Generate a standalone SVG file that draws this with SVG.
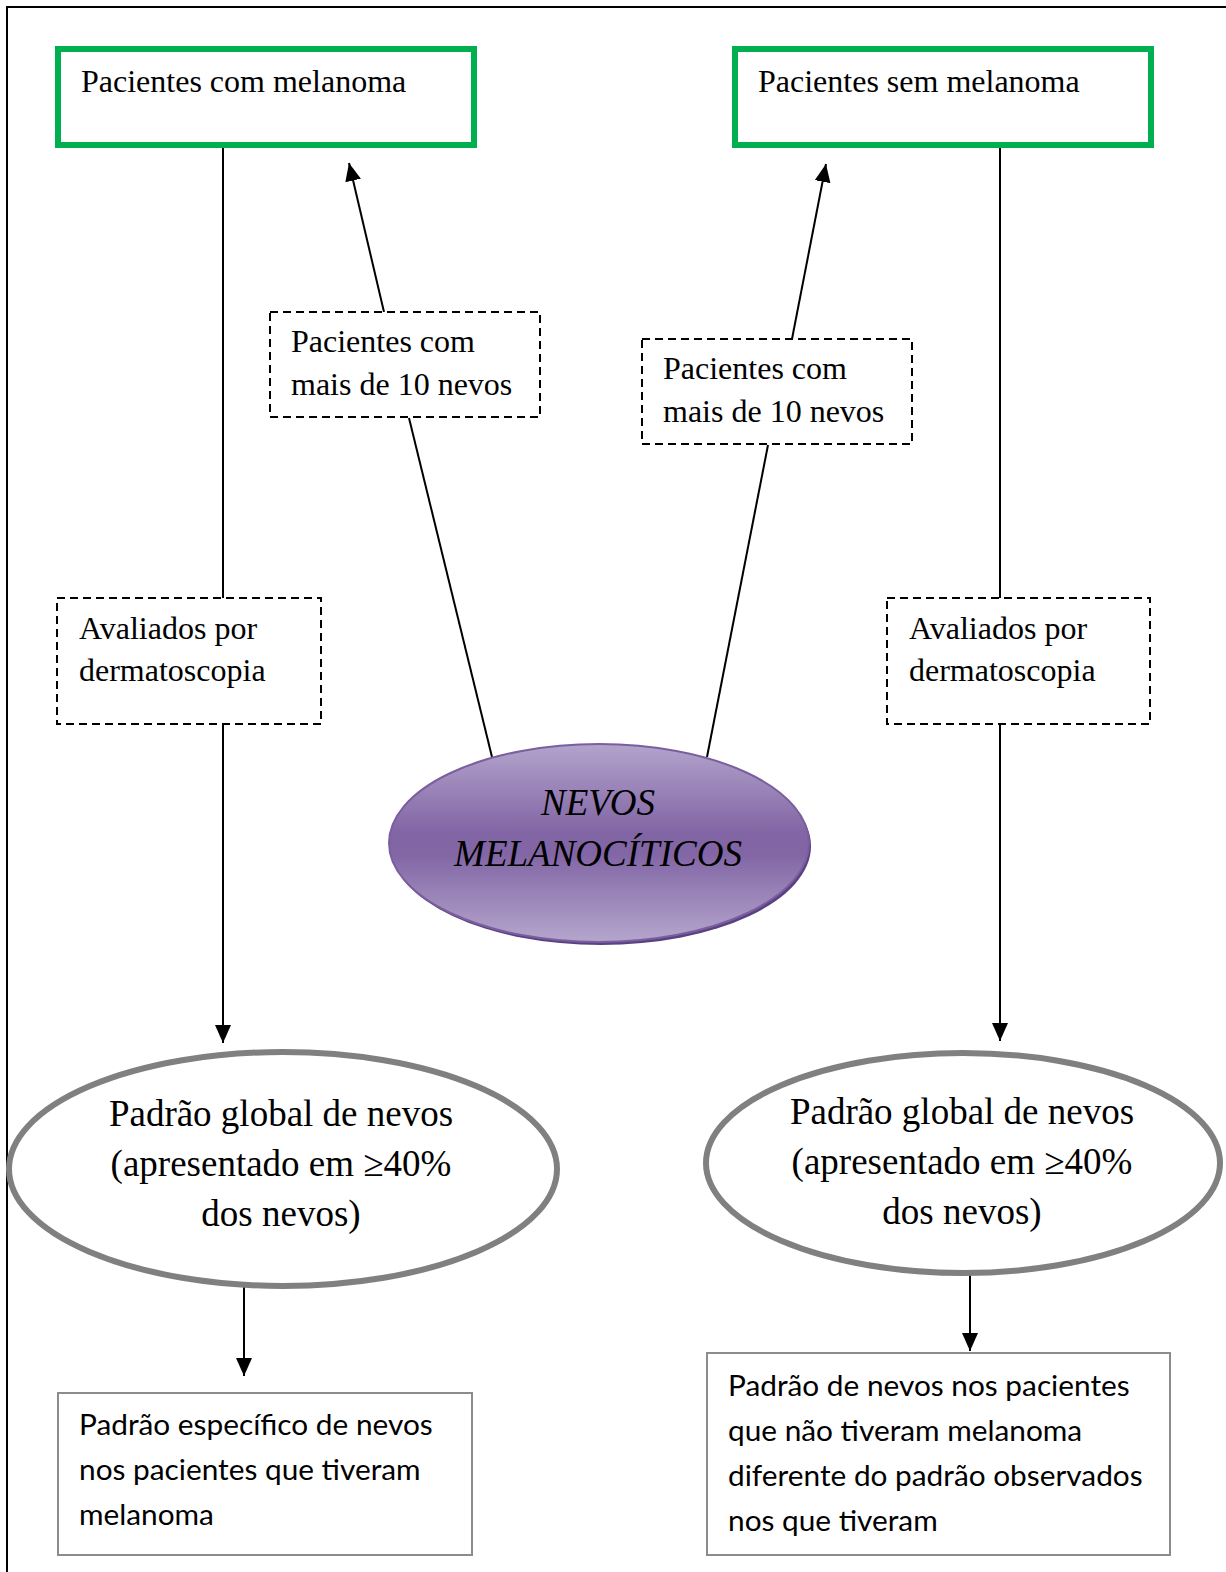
<svg xmlns="http://www.w3.org/2000/svg" width="1226" height="1572" viewBox="0 0 1226 1572">
<style>
.serif{font-family:"Liberation Serif","Times New Roman",serif;fill:#000}
.t32{font-size:32px}
.t37{font-size:37px}
.sans{font-family:Lato,"Open Sans","Liberation Sans",sans-serif;font-size:29.8px;fill:#000}
.green{fill:#fff;stroke:#00b050;stroke-width:6}
.dash{fill:#fff;stroke:#000;stroke-width:2;stroke-dasharray:8 5}
.gray{fill:#fff;stroke:#808080;stroke-width:6}
.plain{fill:#fff;stroke:#8c8c8c;stroke-width:2}
.conn{stroke:#000;stroke-width:2;fill:none}
</style>
<defs>
<marker id="arr" markerUnits="userSpaceOnUse" markerWidth="18" markerHeight="18" viewBox="0 0 18 18" refX="18" refY="9" orient="auto">
<path d="M0,1 L18,9 L0,17 Z" fill="#000"/>
</marker>
<linearGradient id="purp" x1="0" y1="0" x2="0" y2="1">
<stop offset="0" stop-color="#b3a3cc"/>
<stop offset="0.45" stop-color="#8165a4"/>
<stop offset="0.55" stop-color="#8165a4"/>
<stop offset="1" stop-color="#b5a6cd"/>
</linearGradient>
</defs>
<rect width="1226" height="1572" fill="#fff"/>
<g id="frame">
<path d="M7,1572 V7 H1226" class="conn"/>
</g>
<g id="connectors">
<line x1="223" y1="148" x2="223" y2="598" class="conn"/>
<line x1="223" y1="724" x2="223" y2="1043" class="conn" marker-end="url(#arr)"/>
<line x1="1000" y1="148" x2="1000" y2="598" class="conn"/>
<line x1="1000" y1="724" x2="1000" y2="1041" class="conn" marker-end="url(#arr)"/>
<line x1="384" y1="312" x2="349" y2="163" class="conn" marker-end="url(#arr)"/>
<line x1="792" y1="339" x2="826" y2="164" class="conn" marker-end="url(#arr)"/>
<line x1="409" y1="418" x2="492" y2="757" class="conn"/>
<line x1="768" y1="445" x2="707" y2="757" class="conn"/>
<line x1="244" y1="1287" x2="244" y2="1376" class="conn" marker-end="url(#arr)"/>
<line x1="970" y1="1274" x2="970" y2="1351" class="conn" marker-end="url(#arr)"/>
</g>
<g id="n-com-melanoma">
<rect x="58" y="49" width="416" height="96" class="green"/>
<text x="81" y="92" class="serif t32">Pacientes com melanoma</text>
</g>
<g id="n-sem-melanoma">
<rect x="735" y="49" width="416" height="96" class="green"/>
<text x="758" y="92" class="serif t32">Pacientes sem melanoma</text>
</g>
<g id="n-mais10-left">
<rect x="270" y="312" width="270" height="105" class="dash"/>
<text x="291" y="352" class="serif t32">Pacientes com</text>
<text x="291" y="395" class="serif t32">mais de 10 nevos</text>
</g>
<g id="n-mais10-right">
<rect x="642" y="339" width="270" height="105" class="dash"/>
<text x="663" y="379" class="serif t32">Pacientes com</text>
<text x="663" y="422" class="serif t32">mais de 10 nevos</text>
</g>
<g id="n-aval-left">
<rect x="57" y="598" width="264" height="126" class="dash"/>
<text x="79" y="639" class="serif t32">Avaliados por</text>
<text x="79" y="681" class="serif t32">dermatoscopia</text>
</g>
<g id="n-aval-right">
<rect x="887" y="598" width="263" height="126" class="dash"/>
<text x="909" y="639" class="serif t32">Avaliados por</text>
<text x="909" y="681" class="serif t32">dermatoscopia</text>
</g>
<g id="n-nevos">
<ellipse cx="601" cy="846" rx="210" ry="99" fill="#5a4182"/>
<ellipse cx="599" cy="843" rx="210" ry="99" fill="url(#purp)" stroke="#7b5e9e" stroke-width="2"/>
<text x="598" y="815" text-anchor="middle" class="serif t37" font-style="italic">NEVOS</text>
<text x="598" y="866" text-anchor="middle" class="serif t37" font-style="italic">MELANOCÍTICOS</text>
</g>
<g id="n-global-left">
<ellipse cx="283" cy="1169" rx="274" ry="117" class="gray"/>
<text x="281" y="1126" text-anchor="middle" class="serif t37">Padrão global de nevos</text>
<text x="281" y="1176" text-anchor="middle" class="serif t37">(apresentado em ≥40%</text>
<text x="281" y="1226" text-anchor="middle" class="serif t37">dos nevos)</text>
</g>
<g id="n-global-right">
<ellipse cx="963" cy="1163" rx="257" ry="110" class="gray"/>
<text x="962" y="1124" text-anchor="middle" class="serif t37">Padrão global de nevos</text>
<text x="962" y="1174" text-anchor="middle" class="serif t37">(apresentado em ≥40%</text>
<text x="962" y="1224" text-anchor="middle" class="serif t37">dos nevos)</text>
</g>
<g id="n-especifico">
<rect x="58" y="1393" width="414" height="162" class="plain"/>
<text x="79" y="1435" class="sans">Padrão específico de nevos</text>
<text x="79" y="1480" class="sans">nos pacientes que tiveram</text>
<text x="79" y="1525" class="sans">melanoma</text>
</g>
<g id="n-diferente">
<rect x="707" y="1353" width="463" height="202" class="plain"/>
<text x="728" y="1396" class="sans">Padrão de nevos nos pacientes</text>
<text x="728" y="1441" class="sans">que não tiveram melanoma</text>
<text x="728" y="1486" class="sans">diferente do padrão observados</text>
<text x="728" y="1531" class="sans">nos que tiveram</text>
</g>
</svg>
